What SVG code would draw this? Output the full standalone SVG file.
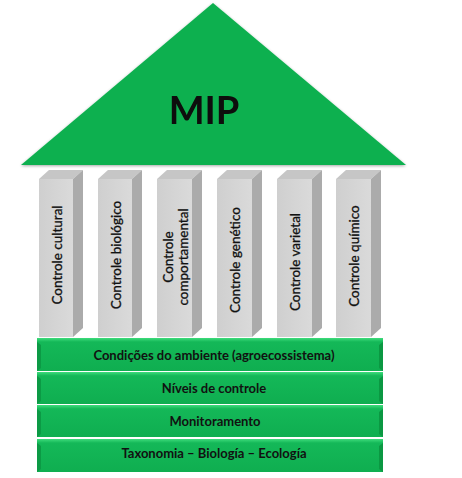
<svg xmlns="http://www.w3.org/2000/svg" width="462" height="478" viewBox="0 0 462 478">
<defs>
<linearGradient id="band" x1="0" y1="0" x2="0" y2="1">
<stop offset="0" stop-color="#3fdc7c"/>
<stop offset="0.12" stop-color="#14b858"/>
<stop offset="1" stop-color="#0fae50"/>
</linearGradient>
<linearGradient id="front" x1="0" y1="0" x2="1" y2="0">
<stop offset="0" stop-color="#cfcfcf"/>
<stop offset="1" stop-color="#dadada"/>
</linearGradient>
<filter id="glow" x="-5%" y="-5%" width="110%" height="115%">
<feGaussianBlur in="SourceAlpha" stdDeviation="1.5"/>
<feOffset dy="1"/>
<feComponentTransfer><feFuncA type="linear" slope="0.35"/></feComponentTransfer>
<feMerge><feMergeNode/><feMergeNode in="SourceGraphic"/></feMerge>
</filter>
</defs>
<style>
.roof{fill:#0fb050}
.front{fill:url(#front)}
.side{fill:#ababab}
.top{fill:#c6c6c6}
.bandrect{fill:url(#band)}
.bevl{fill:#0c9a45}
.bevr{fill:#0b9842}
.pt{font-family:Lato,"Open Sans","Liberation Sans",sans-serif;font-size:13.5px;fill:#111;stroke:#111;stroke-width:0.3;text-anchor:middle}
.bt{font-family:Lato,"Open Sans","Liberation Sans",sans-serif;font-size:13px;font-weight:bold;fill:#111;text-anchor:middle}
</style>
<rect width="462" height="478" fill="#ffffff"/>

<g id="roof" filter="url(#glow)">
<polygon class="roof" points="213,3 406,165 21,165"/>
<text x="204" y="124" font-family="Lato,'Open Sans','Liberation Sans',sans-serif" font-size="38" font-weight="bold" text-anchor="middle" fill="#0a0a0a">MIP</text>
</g>

<g id="pillar1">
<polygon class="top" points="39,179 73,179 83,170 49,170"/>
<polygon class="side" points="73,179 83,170 83,328 73,337"/>
<rect class="front" x="39" y="179" width="34" height="158"/>
<text class="pt" transform="translate(61.5,255) rotate(-90)">Controle cultural</text>
</g>
<g id="pillar2">
<polygon class="top" points="98,179 132,179 142,170 108,170"/>
<polygon class="side" points="132,179 142,170 142,328 132,337"/>
<rect class="front" x="98" y="179" width="34" height="158"/>
<text class="pt" transform="translate(120.5,255) rotate(-90)">Controle biológico</text>
</g>
<g id="pillar3">
<polygon class="top" points="157,179 192,179 202,170 167,170"/>
<polygon class="side" points="192,179 202,170 202,328 192,337"/>
<rect class="front" x="157" y="179" width="35" height="158"/>
<text class="pt" transform="translate(173,257) rotate(-90)">Controle</text>
<text class="pt" transform="translate(188,257) rotate(-90)">comportamental</text>
</g>
<g id="pillar4">
<polygon class="top" points="217,179 252,179 262,170 227,170"/>
<polygon class="side" points="252,179 262,170 262,328 252,337"/>
<rect class="front" x="217" y="179" width="35" height="158"/>
<text class="pt" transform="translate(240,260) rotate(-90)">Controle genético</text>
</g>
<g id="pillar5">
<polygon class="top" points="277,179 312,179 322,170 287,170"/>
<polygon class="side" points="312,179 322,170 322,328 312,337"/>
<rect class="front" x="277" y="179" width="35" height="158"/>
<text class="pt" transform="translate(300,262) rotate(-90)">Controle varietal</text>
</g>
<g id="pillar6">
<polygon class="top" points="336,179 371,179 381,170 346,170"/>
<polygon class="side" points="371,179 381,170 381,328 371,337"/>
<rect class="front" x="336" y="179" width="35" height="158"/>
<text class="pt" transform="translate(359,256) rotate(-90)">Controle químico</text>
</g>

<g id="band1">
<rect class="bandrect" x="37" y="338" width="346" height="33"/>
<polygon class="bevl" points="37,342 41,345 41,368 37,371"/>
<polygon class="bevr" points="383,342 379,345 379,368 383,371"/>
<text class="bt" x="214" y="360">Condições do ambiente (agroecossistema)</text>
</g>
<g id="band2">
<rect class="bandrect" x="37" y="372" width="346" height="32"/>
<polygon class="bevl" points="37,376 41,379 41,401 37,404"/>
<polygon class="bevr" points="383,376 379,379 379,401 383,404"/>
<text class="bt" x="214" y="393">Níveis de controle</text>
</g>
<g id="band3">
<rect class="bandrect" x="37" y="405" width="346" height="32"/>
<polygon class="bevl" points="37,409 41,412 41,434 37,437"/>
<polygon class="bevr" points="383,409 379,412 379,434 383,437"/>
<text class="bt" x="215" y="426">Monitoramento</text>
</g>
<g id="band4">
<rect class="bandrect" x="37" y="439" width="346" height="33"/>
<polygon class="bevl" points="37,443 41,446 41,469 37,472"/>
<polygon class="bevr" points="383,443 379,446 379,469 383,472"/>
<text class="bt" x="214" y="458">Taxonomia – Biología – Ecología</text>
</g>
<g id="connectors"/>
</svg>
